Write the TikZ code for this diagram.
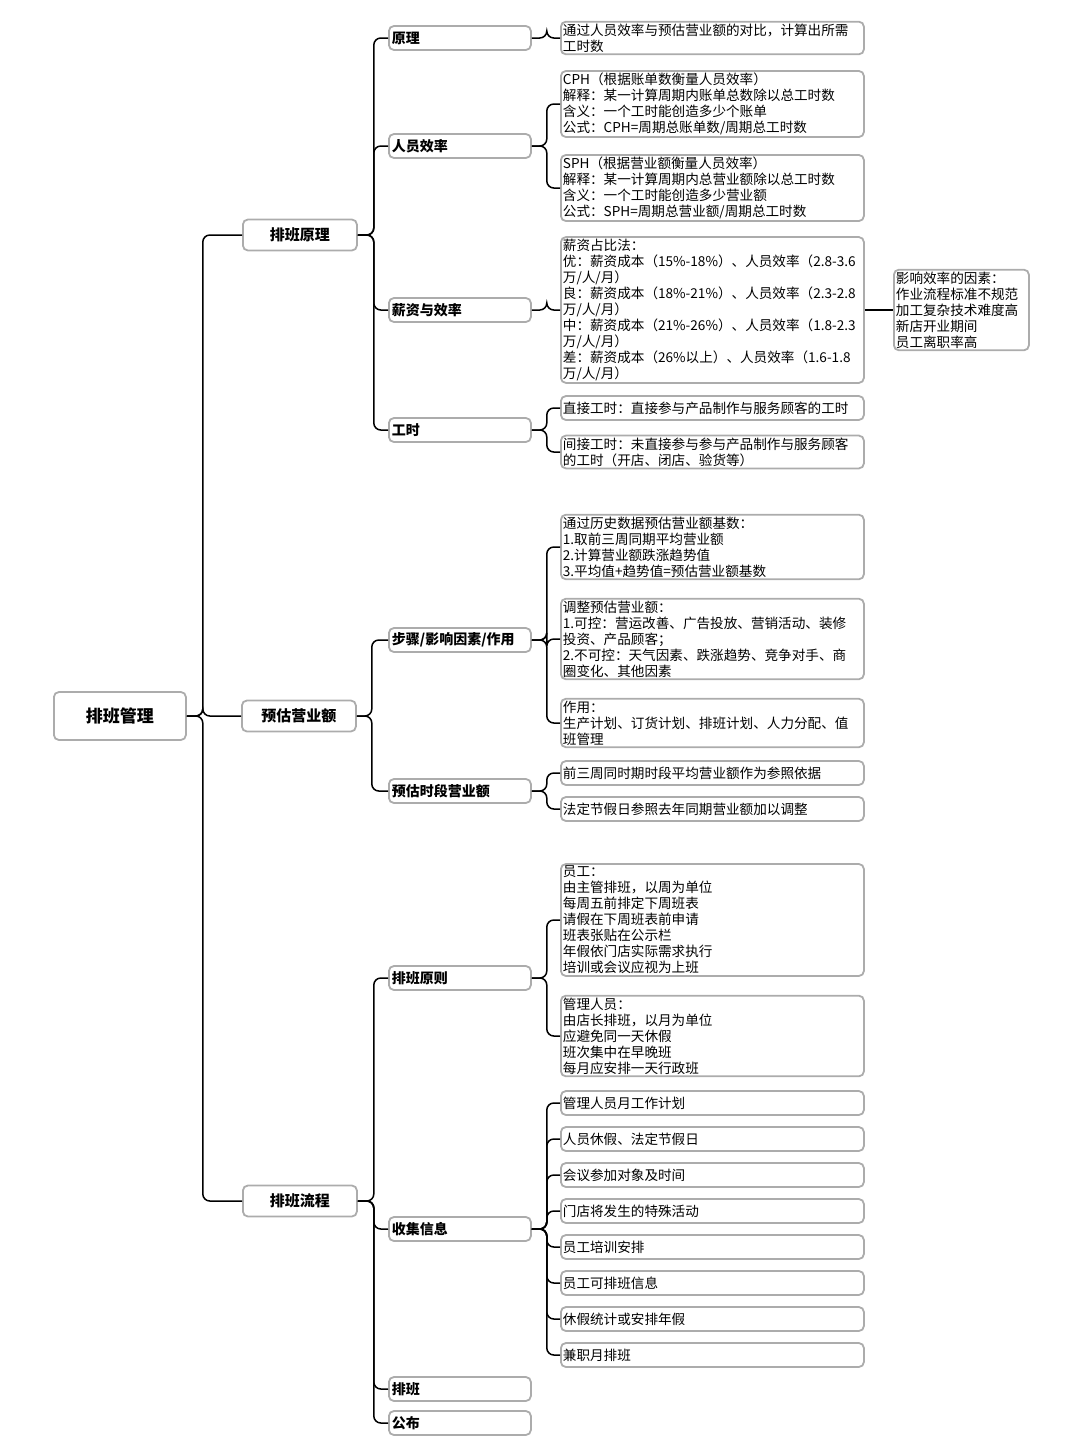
\documentclass[tikz,border=0pt]{standalone}
\usepackage{fontspec}
\setmainfont{Noto Sans CJK SC}
\usetikzlibrary{calc}
\XeTeXlinebreaklocale "zh"
\tikzset{
  box/.style={draw=gray!65, line width=1.8pt, rounded corners=5pt, fill=white, anchor=west, inner ysep=2pt},
  root/.style={box, minimum width=132pt, minimum height=48pt, font=\fontsize{17}{20}\selectfont\bfseries},
  topic/.style={box, minimum width=114pt, minimum height=31pt, font=\fontsize{15}{18}\selectfont\bfseries},
  sub/.style={box, minimum width=142pt, minimum height=24pt, align=left, text width=136pt, inner xsep=3pt, font=\fontsize{14}{16}\selectfont\bfseries},
  leaf/.style={box, minimum width=303pt, minimum height=24pt, text width=299pt, inner xsep=2pt, align=left, font=\fontsize{13.6}{16}\selectfont},
  link/.style={line width=1.5pt, rounded corners=7pt}
}
\newcommand{\conn}[3]{\draw[link] (#1.east) -- ++(#3,0) |- (#2.west);}
\begin{document}
\begin{tikzpicture}[x=1pt,y=-1pt]
  \useasboundingbox (0,0) rectangle (1080,1448);

  % root and main topics
  \node[root] (root) at (53,716) {排班管理};
  \node[topic] (yuanli) at (242,235) {排班原理};
  \node[topic] (yugu) at (241,716) {预估营业额};
  \node[topic] (liucheng) at (242,1201) {排班流程};

  % second level
  \node[sub] (yl) at (388,38) {原理};
  \node[sub] (xiaolv) at (388,146) {人员效率};
  \node[sub] (xinzi) at (388,310) {薪资与效率};
  \node[sub] (gongshi) at (388,430) {工时};
  \node[sub] (buzhou) at (388,640) {步骤/影响因素/作用};
  \node[sub] (shiduan) at (388,791) {预估时段营业额};
  \node[sub] (yuanze) at (388,978) {排班原则};
  \node[sub] (shouji) at (388,1229) {收集信息};
  \node[sub] (paiban) at (388,1389) {排班};
  \node[sub] (gongbu) at (388,1423) {公布};

  % leaves
  \node[leaf] (l-yl) at (560,38) {通过人员效率与预估营业额的对比，计算出所需\\工时数};
  \node[leaf] (l-cph) at (560,104) {CPH（根据账单数衡量人员效率）\\解释：某一计算周期内账单总数除以总工时数\\含义：一个工时能创造多少个账单\\公式：CPH=周期总账单数/周期总工时数};
  \node[leaf] (l-sph) at (560,188) {SPH（根据营业额衡量人员效率）\\解释：某一计算周期内总营业额除以总工时数\\含义：一个工时能创造多少营业额\\公式：SPH=周期总营业额/周期总工时数};
  \node[leaf] (l-xinzi) at (560,310) {薪资占比法：\\优：薪资成本（15\%-18\%）、人员效率（2.8-3.6\\万/人/月）\\良：薪资成本（18\%-21\%）、人员效率（2.3-2.8\\万/人/月）\\中：薪资成本（21\%-26\%）、人员效率（1.8-2.3\\万/人/月）\\差：薪资成本（26\%以上）、人员效率（1.6-1.8\\万/人/月）};
  \node[box, minimum width=135pt, text width=131pt, inner xsep=2pt, align=left, font=\fontsize{13.6}{16}\selectfont] (l-yingxiang) at (893,310) {影响效率的因素：\\作业流程标准不规范\\加工复杂技术难度高\\新店开业期间\\员工离职率高};
  \node[leaf] (l-gs1) at (560,408) {直接工时：直接参与产品制作与服务顾客的工时};
  \node[leaf] (l-gs2) at (560,452) {间接工时：未直接参与参与产品制作与服务顾客\\的工时（开店、闭店、验货等）};
  \node[leaf] (l-bz1) at (560,547) {通过历史数据预估营业额基数：\\1.取前三周同期平均营业额\\2.计算营业额跌涨趋势值\\3.平均值+趋势值=预估营业额基数};
  \node[leaf] (l-bz2) at (560,639) {调整预估营业额：\\1.可控：营运改善、广告投放、营销活动、装修\\投资、产品顾客；\\2.不可控：天气因素、跌涨趋势、竞争对手、商\\圈变化、其他因素};
  \node[leaf] (l-bz3) at (560,723) {作用：\\生产计划、订货计划、排班计划、人力分配、值\\班管理};
  \node[leaf] (l-sd1) at (560,773) {前三周同时期时段平均营业额作为参照依据};
  \node[leaf] (l-sd2) at (560,809) {法定节假日参照去年同期营业额加以调整};
  \node[leaf] (l-yz1) at (560,920) {员工：\\由主管排班，以周为单位\\每周五前排定下周班表\\请假在下周班表前申请\\班表张贴在公示栏\\年假依门店实际需求执行\\培训或会议应视为上班};
  \node[leaf] (l-yz2) at (560,1036) {管理人员：\\由店长排班，以月为单位\\应避免同一天休假\\班次集中在早晚班\\每月应安排一天行政班};
  \foreach \t [count=\i] in {管理人员月工作计划,人员休假、法定节假日,会议参加对象及时间,门店将发生的特殊活动,员工培训安排,员工可排班信息,休假统计或安排年假,兼职月排班}
    {\node[leaf] (l-sj\i) at (560,1067+36*\i) {\t};}

  % connectors
  \foreach \c in {yuanli,yugu,liucheng} {\conn{root}{\c}{16}}
  \foreach \c in {yl,xiaolv,xinzi,gongshi} {\conn{yuanli}{\c}{16}}
  \foreach \c in {buzhou,shiduan} {\conn{yugu}{\c}{15}}
  \foreach \c in {yuanze,shouji,paiban,gongbu} {\conn{liucheng}{\c}{16}}
  \conn{yl}{l-yl}{15}
  \foreach \c in {l-cph,l-sph} {\conn{xiaolv}{\c}{15}}
  \conn{xinzi}{l-xinzi}{15}
  \draw[link] (l-xinzi.east) -- (l-yingxiang.west);
  \foreach \c in {l-gs1,l-gs2} {\conn{gongshi}{\c}{15}}
  \foreach \c in {l-bz1,l-bz2,l-bz3} {\conn{buzhou}{\c}{15}}
  \foreach \c in {l-sd1,l-sd2} {\conn{shiduan}{\c}{15}}
  \foreach \c in {l-yz1,l-yz2} {\conn{yuanze}{\c}{15}}
  \foreach \i in {1,...,8} {\conn{shouji}{l-sj\i}{15}}
\end{tikzpicture}
\end{document}
